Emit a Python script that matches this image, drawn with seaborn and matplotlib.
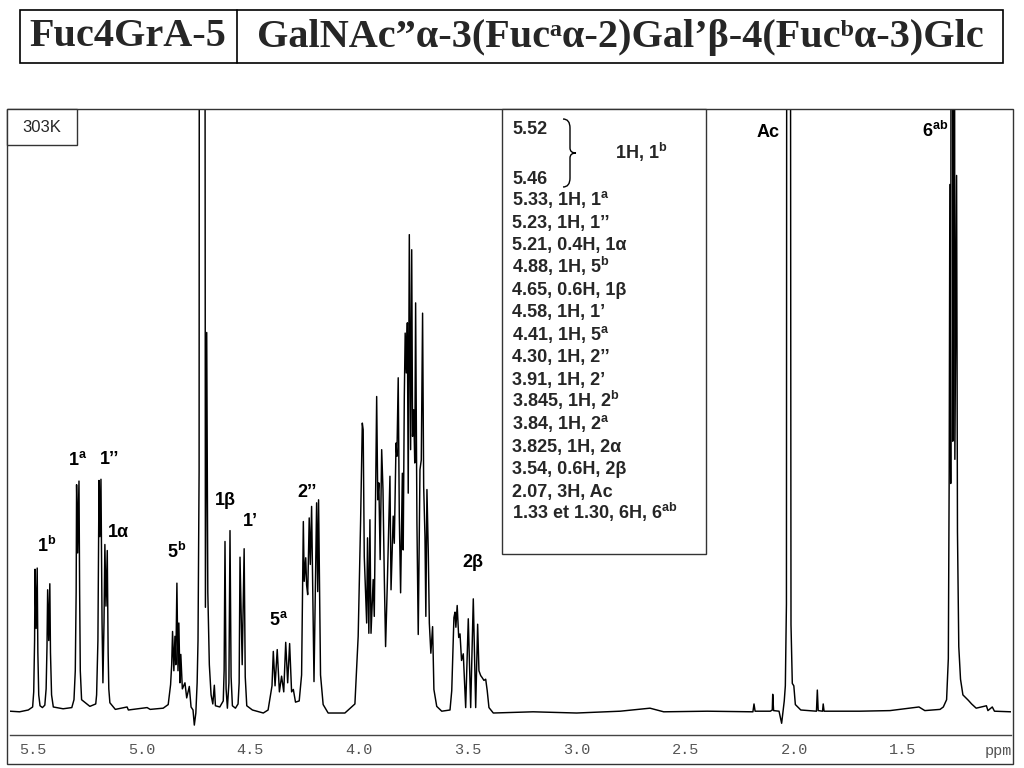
"""
1H NMR spectrum of Fuc4GrA-5 at 303K, with peak assignments.
"""

import numpy as np
import pandas as pd
import matplotlib.pyplot as plt
import seaborn as sns
from matplotlib.patches import Rectangle, PathPatch
from matplotlib.path import Path
from matplotlib.lines import Line2D
from matplotlib.ticker import MultipleLocator

# chemical shift (ppm) and intensity (0 = baseline, 100 = top of frame),
# read off the printed spectrum
ppm = [
    5.604, 5.560, 5.520, 5.500, 5.495, 5.491, 5.489, 5.484, 5.479, 5.476, 5.472, 5.466,
    5.455, 5.444, 5.438, 5.434, 5.431, 5.426, 5.421, 5.418, 5.413, 5.405,
    5.360, 5.320, 5.310, 5.304, 5.300, 5.298, 5.293, 5.287, 5.284, 5.281, 5.275,
    5.237, 5.210, 5.206, 5.200, 5.195, 5.191, 5.186, 5.181, 5.177, 5.172, 5.168,
    5.163, 5.157, 5.153, 5.150, 5.145, 5.120, 5.066, 5.060, 4.974, 4.960, 4.900,
    4.877, 4.866, 4.861, 4.857, 4.851, 4.846, 4.842, 4.837, 4.832, 4.828, 4.823,
    4.819, 4.812, 4.800, 4.792, 4.780, 4.772, 4.763, 4.757, 4.750, 4.744, 4.740,
    4.735, 4.731, 4.713, 4.706, 4.700, 4.695, 4.688, 4.680, 4.672, 4.665, 4.660,
    4.640, 4.624, 4.620, 4.616, 4.611, 4.605, 4.598, 4.593, 4.588, 4.582, 4.568,
    4.556, 4.551, 4.547, 4.537, 4.528, 4.523, 4.516, 4.490, 4.440, 4.418, 4.409,
    4.400, 4.394, 4.386, 4.376, 4.366, 4.356, 4.346, 4.337, 4.328, 4.319, 4.310,
    4.302, 4.292, 4.275, 4.264, 4.256, 4.252, 4.245, 4.241, 4.236, 4.229, 4.224,
    4.218, 4.207, 4.195, 4.190, 4.186, 4.177, 4.165, 4.142, 4.065, 4.019, 4.004,
    3.993, 3.985, 3.981, 3.976, 3.965, 3.961, 3.955, 3.950, 3.945, 3.935, 3.930,
    3.919, 3.914, 3.909, 3.903, 3.896, 3.890, 3.884, 3.878, 3.870, 3.858, 3.853,
    3.843, 3.838, 3.830, 3.826, 3.820, 3.815, 3.809, 3.801, 3.797, 3.792, 3.788,
    3.783, 3.778, 3.774, 3.769, 3.763, 3.758, 3.754, 3.749, 3.744, 3.740, 3.734,
    3.728, 3.720, 3.714, 3.708, 3.703, 3.697, 3.693, 3.688, 3.682, 3.677, 3.670,
    3.662, 3.656, 3.643, 3.620, 3.582, 3.574, 3.564, 3.559, 3.555, 3.549, 3.542,
    3.536, 3.529, 3.521, 3.510, 3.498, 3.487, 3.475, 3.464, 3.455, 3.449, 3.441,
    3.435, 3.426, 3.418, 3.411, 3.403, 3.383, 3.200, 3.000, 2.800, 2.663, 2.600,
    2.400, 2.200, 2.190, 2.185, 2.180, 2.110, 2.101, 2.099, 2.095, 2.070, 2.058,
    2.046, 2.041, 2.036, 2.031, 2.024, 2.015, 2.009, 2.002, 1.995, 1.970, 1.898,
    1.894, 1.890, 1.870, 1.867, 1.863, 1.700, 1.560, 1.427, 1.400, 1.330, 1.315,
    1.300, 1.292, 1.288, 1.285, 1.281, 1.275, 1.2715, 1.268, 1.262, 1.254, 1.250,
    1.244, 1.236, 1.225, 1.200, 1.185, 1.164, 1.117, 1.110, 1.090, 1.080, 1.004,
]
intensity = [
    0.3, 0.2, 0.5, 1.0, 3.5, 12, 23.8, 14, 24.0, 10, 3, 1.2,
    0.9, 1.3, 4, 11, 20.4, 12, 21.4, 10, 3, 1.0,
    0.7, 0.9, 2.2, 7, 20, 37.8, 26.5, 38.4, 20, 7, 2.2,
    1.1, 1.5, 3, 12, 38.5, 29.2, 38.7, 15, 5, 15, 27.9,
    17.7, 26.9, 10, 4, 1.7, 0.6, 1.0, 0.5, 0.9, 0.6, 0.8,
    1.4, 4.7, 8, 13.5, 7, 12.7, 8, 21.5, 7, 14.9, 5,
    9.7, 4, 5.0, 2.5, 4.4, 1.0, 0.5, -2.0, 0, 5, 12,
    40, 400, 400, 17.5, 63, 20, 8, 3, 1.5, 4.6, 1.2,
    1.0, 2, 7, 28.4, 4, 0.8, 5, 30.2, 6, 1.2, 0.8,
    1.5, 5, 25.8, 8, 27.2, 6, 1.2, 0.5, 0.0, 0.5, 2.5,
    4.5, 10.2, 4.5, 10.5, 3.5, 6.1, 3.5, 11.7, 5.0, 11.5, 3.5,
    3.9, 1.8, 2.0, 6.3, 31.7, 21.8, 25.7, 21.2, 19.6, 32.3, 24.6,
    34.2, 5.2, 34.8, 20.1, 35.3, 6.3, 1.4, 0.0, 0.0, 1.5, 12.7,
    31.5, 48.0, 46.9, 25.9, 14.9, 29.0, 13.2, 32.0, 13.2, 22.1, 16.0,
    52.4, 35.3, 38.1, 25.4, 43.6, 37.0, 22.6, 11.0, 21.5, 39.2, 20.4,
    32.6, 28.1, 44.7, 42.5, 55.5, 32.6, 19.9, 39.7, 27.0, 52.4, 62.9,
    56.3, 64.6, 36.4, 79.2, 43.6, 76.7, 45.8, 50.2, 41.4, 67.9, 31.5,
    13.0, 40.3, 41.9, 66.2, 37.5, 29.2, 16.0, 37.0, 27.0, 14.9, 9.9,
    14.3, 3.9, 1.1, 0.3, 0.5, 3.7, 15.8, 16.7, 14.2, 17.8, 12.5,
    13.1, 8.7, 9.8, 0.9, 15.6, 0.9, 18.9, 0.9, 14.7, 7.0, 6.2,
    5.9, 5.4, 5.6, 3.7, 0.9, 0.0, 0.2, 0.0, 0.3, 0.8, 0.2,
    0.3, 0.2, 0.2, 1.5, 0.3, 0.3, 0.5, 3.1, 0.4, 0.3, -1.7,
    2.0, 4.5, 18, 400, 400, 14.6, 4.9, 4.5, 1.4, 0.5, 0.3,
    3.8, 0.4, 0.3, 1.5, 0.3, 0.3, 0.4, 1.0, 0.4, 0.6, 1.0,
    2.2, 9, 40, 87.5, 38, 400, 45, 400, 42, 89, 30,
    11, 5.6, 3.0, 2.1, 1.5, 0.8, 1.2, 0.4, 1.0, 0.3, 0.2,
]

# assignment labels on the spectrum: text, ppm, baseline height
peak_labels = ["1$^{\\mathsf{b}}$", "1$^{\\mathsf{a}}$", "1\u2019\u2019", "1\u03b1",
               "5$^{\\mathsf{b}}$", "1\u03b2", "1\u2019", "5$^{\\mathsf{a}}$",
               "2\u2019\u2019", "2\u03b2", "Ac", "6$^{\\mathsf{ab}}$"]
label_ppm = [5.434, 5.292, 5.145, 5.107, 4.838, 4.616, 4.498, 4.371,
             4.241, 3.475, 2.120, 1.353]
label_height = [26.7, 41.0, 41.3, 29.2, 25.6, 34.4, 30.9, 14.6,
                35.7, 24.2, 95.4, 95.4]

# shift table in the inset box
table_lines = [
    "5.33, 1H, 1$^{\\mathsf{a}}$",
    "5.23, 1H, 1\u2019\u2019",
    "5.21, 0.4H, 1\u03b1",
    "4.88, 1H, 5$^{\\mathsf{b}}$",
    "4.65, 0.6H, 1\u03b2",
    "4.58, 1H, 1\u2019",
    "4.41, 1H, 5$^{\\mathsf{a}}$",
    "4.30, 1H, 2\u2019\u2019",
    "3.91, 1H, 2\u2019",
    "3.845, 1H, 2$^{\\mathsf{b}}$",
    "3.84, 1H, 2$^{\\mathsf{a}}$",
    "3.825, 1H, 2\u03b1",
    "3.54, 0.6H, 2\u03b2",
    "2.07, 3H, Ac",
    "1.33 et 1.30, 6H, 6$^{\\mathsf{ab}}$",
]

tick_values = [5.5, 5.0, 4.5, 4.0, 3.5, 3.0, 2.5, 2.0, 1.5]
tick_labels = ["5.5", "5.0", "4.5", "4.0", "3.5", "3.0", "2.5", "2.0", "1.5"]

title_left = "Fuc4GrA-5"
title_right = "GalNAc\u201d\u03b1-3(Fuc\u1d43\u03b1-2)Gal\u2019\u03b2-4(Fuc\u1d47\u03b1-3)Glc"

sns.set_style("white")
plt.rcParams["font.family"] = ["Liberation Sans", "DejaVu Sans"]
plt.rcParams["mathtext.fontset"] = "custom"
plt.rcParams["mathtext.rm"] = "Liberation Serif:bold"
plt.rcParams["mathtext.sf"] = "Liberation Sans:bold"
plt.rcParams["mathtext.it"] = "Liberation Sans:bold"
plt.rcParams["mathtext.bf"] = "Liberation Sans:bold"

W, H = 1024, 768


def fx(x):
    return x / W


def fy(y):
    return 1 - y / H


fig = plt.figure(figsize=(W / 100, H / 100), dpi=100)
fig.patch.set_facecolor("white")

# title box
fig.add_artist(Rectangle((fx(20), fy(63)), (1003 - 20) / W, (63 - 10) / H,
                         transform=fig.transFigure, fill=False,
                         edgecolor="black", linewidth=1.2))
fig.add_artist(Line2D([fx(237), fx(237)], [fy(10), fy(63)],
                      transform=fig.transFigure, color="black", linewidth=1.2))
serif_family = ["Liberation Serif", "DejaVu Serif", "DejaVu Sans"]
fig.text(fx(128), fy(37), title_left, ha="center", va="center",
         family=serif_family, fontweight="bold", fontsize=29)
fig.text(fx(620), fy(37), title_right, ha="center", va="center",
         family=serif_family, fontweight="bold", fontsize=29)

# outer frame of the spectrum panel
fig.add_artist(Rectangle((fx(7), fy(764)), (1013 - 7) / W, (764 - 109) / H,
                         transform=fig.transFigure, fill=False,
                         edgecolor="#333333", linewidth=1.0))

ax = fig.add_axes([fx(10), fy(735), (1011 - 10) / W, (735 - 109) / H])
ax.patch.set_alpha(0)

df = pd.DataFrame({"ppm": ppm, "intensity": intensity})
sns.lineplot(data=df, x="ppm", y="intensity", sort=False, estimator=None,
             color="black", linewidth=1.05, ax=ax)

ax.set_xlim(5.604, 1.004)
ax.set_ylim(-3.64, 100)
ax.set_xlabel("")
ax.set_ylabel("")
ax.set_yticks([])
for side in ["left", "right", "top"]:
    ax.spines[side].set_visible(False)
ax.spines["bottom"].set_color("#444444")
ax.spines["bottom"].set_linewidth(1.0)
ax.set_xticks(tick_values)
ax.set_xticklabels(tick_labels, family="Liberation Mono", fontsize=11,
                   color="#555555")
ax.xaxis.set_minor_locator(MultipleLocator(0.1))
ax.tick_params(axis="x", which="major", direction="out", length=5,
               width=1, color="#444444", pad=1)
ax.tick_params(axis="x", which="minor", direction="out", length=2.5,
               width=1, color="#444444")
fig.text(fx(1012), fy(751), "ppm", ha="right", va="center",
         family="Liberation Mono", fontsize=11, color="#555555")

for text, x, y in zip(peak_labels, label_ppm, label_height):
    ax.text(x, y, text, ha="center", va="baseline", fontsize=13,
            fontweight="bold", color="black")

# temperature box
fig.add_artist(Rectangle((fx(7), fy(145)), 70 / W, 36 / H,
                         transform=fig.transFigure, facecolor="white",
                         edgecolor="#333333", linewidth=1.0))
fig.text(fx(42), fy(127), "303K", ha="center", va="center", fontsize=12)

# assignment table
fig.add_artist(Rectangle((fx(502), fy(554)), (706 - 502) / W, (554 - 109) / H,
                         transform=fig.transFigure, facecolor="white",
                         edgecolor="#333333", linewidth=1.0))
fig.text(fx(512), fy(134), "5.52", ha="left", va="baseline",
         fontsize=13, fontweight="bold")
fig.text(fx(512), fy(184), "5.46", ha="left", va="baseline",
         fontsize=13, fontweight="bold")
fig.text(fx(615), fy(159), "1H, 1$^{\\mathsf{b}}$", ha="left", va="baseline",
         fontsize=13, fontweight="bold")
brace = Path(
    [(fx(563), fy(119)), (fx(570), fy(119)), (fx(570), fy(128)),
     (fx(570), fy(148)), (fx(570), fy(153)), (fx(576), fy(153)),
     (fx(570), fy(153)), (fx(570), fy(158)), (fx(570), fy(178)),
     (fx(570), fy(187)), (fx(563), fy(187))],
    [Path.MOVETO, Path.CURVE3, Path.CURVE3, Path.LINETO, Path.CURVE3,
     Path.CURVE3, Path.CURVE3, Path.CURVE3, Path.LINETO, Path.CURVE3,
     Path.CURVE3])
fig.add_artist(PathPatch(brace, transform=fig.transFigure, fill=False,
                         edgecolor="black", linewidth=1.0))
for i, line in enumerate(table_lines):
    fig.text(fx(512), fy(205.5 + 22.4 * i), line, ha="left", va="baseline",
             fontsize=13, fontweight="bold")

fig.savefig("out.png", dpi=100, facecolor="white")
